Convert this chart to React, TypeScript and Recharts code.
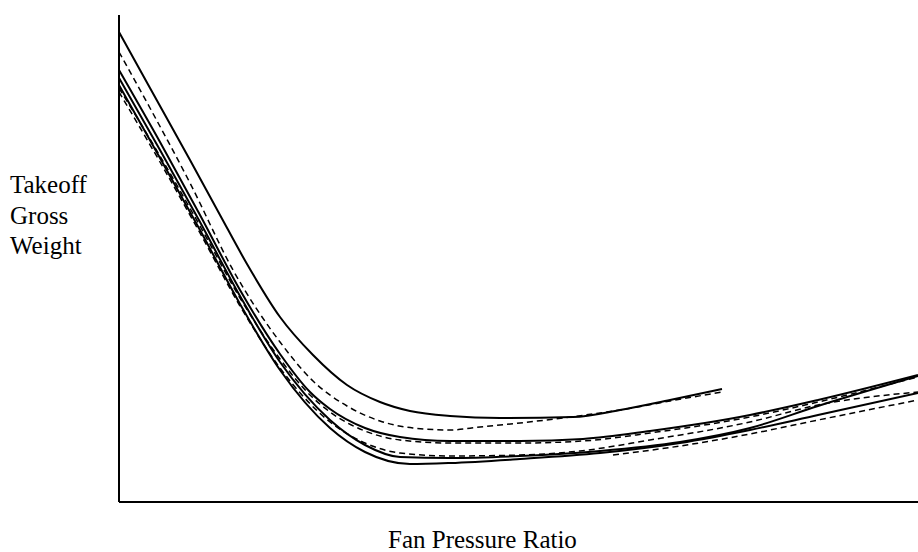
import { Label, Line, LineChart, XAxis, YAxis } from "recharts";

// x = fan pressure ratio (arbitrary units), y = takeoff gross weight (arbitrary units)
type Pt = { x: number; y: number };
const pts = (xs: number[], ys: number[]): Pt[] => xs.map((x, i) => ({ x, y: ys[i] }));

const topSolidX = [0, 31, 71, 101, 128, 161, 194, 228, 261, 291, 331, 381, 454, 501, 551, 603];
const topSolidY = [470, 414, 342, 287, 238, 185, 147, 117, 100, 91, 86, 84, 85, 92, 102, 113];

const topDashX = [0, 31, 71, 114, 161, 194, 228, 261, 294, 331, 361, 401, 451, 501, 551, 603];
const topDashY = [450, 394, 319, 232, 160, 121, 96, 81, 74, 72, 75, 79, 85, 92, 101, 110];

const midSolidX = [0, 41, 81, 121, 161, 191, 211, 246, 281, 331, 401, 464, 531, 631, 699, 799];
const midSolidY = [432, 360, 287, 212, 148, 110, 93, 74, 65, 61, 61, 63, 71, 87, 102, 127];

const midDashX = [0, 41, 81, 121, 161, 191, 211, 246, 281, 331, 401, 464, 531, 631, 699, 799];
const midDashY = [414, 346, 276, 204, 143, 107, 90, 71, 62, 59, 59, 61, 69, 85, 100, 125];

const lowSolidX = [0, 41, 81, 121, 161, 211, 246, 281, 331, 401, 481, 561, 631, 699, 799];
const lowSolidY = [424, 352, 280, 206, 140, 82, 57, 45, 44, 46, 51, 60, 74, 96, 126];

const bottomSolidX = [0, 41, 81, 121, 161, 211, 246, 291, 331, 401, 481, 561, 631, 699, 799];
const bottomSolidY = [417, 344, 272, 198, 132, 74, 50, 38, 39, 43, 49, 59, 72, 87, 109];

const lowDashX = [0, 41, 81, 121, 161, 211, 246, 281, 331, 401, 461, 531, 631, 699, 799];
const lowDashY = [410, 340, 269, 196, 134, 80, 59, 49, 46, 47, 51, 62, 80, 97, 110];

const shortDashX = [494, 561, 631, 699, 799];
const shortDashY = [47, 56, 68, 82, 102];

const series = [
  { id: "s1", data: pts(topSolidX, topSolidY), dashed: false },
  { id: "d1", data: pts(topDashX, topDashY), dashed: true },
  { id: "s2", data: pts(midSolidX, midSolidY), dashed: false },
  { id: "d2", data: pts(midDashX, midDashY), dashed: true },
  { id: "s3", data: pts(lowSolidX, lowSolidY), dashed: false },
  { id: "s4", data: pts(bottomSolidX, bottomSolidY), dashed: false },
  { id: "d3", data: pts(lowDashX, lowDashY), dashed: true },
  { id: "d4", data: pts(shortDashX, shortDashY), dashed: true },
];

const yLabelLines = ["Takeoff", "Gross", "Weight"];
const FONT = "'Liberation Serif', 'Times New Roman', serif";

export default function App() {
  return (
    <div style={{ width: 918, height: 552, background: "#fff" }}>
      <style>{`body{margin:0}`}</style>
      <LineChart width={918} height={552} margin={{ top: 15, right: 0, bottom: 0, left: 0 }}>
        <XAxis
          type="number"
          dataKey="x"
          domain={[0, 799]}
          tick={false}
          tickLine={false}
          height={50}
          axisLine={{ stroke: "#000", strokeWidth: 2 }}
        >
          <Label
            content={() => (
              <text x={388} y={548} fontFamily={FONT} fontSize={25} fill="#000">
                Fan Pressure Ratio
              </text>
            )}
          />
        </XAxis>
        <YAxis
          type="number"
          domain={[0, 487]}
          tick={false}
          tickLine={false}
          width={119}
          axisLine={{ stroke: "#000", strokeWidth: 2 }}
        >
          <Label
            content={() => (
              <g>
                {yLabelLines.map((t, i) => (
                  <text key={t} x={10} y={193 + i * 30.5} fontFamily={FONT} fontSize={25} fill="#000">
                    {t}
                  </text>
                ))}
              </g>
            )}
          />
        </YAxis>
        {series.map((s) => (
          <Line
            key={s.id}
            data={s.data}
            dataKey="y"
            type="monotone"
            stroke="#000"
            strokeWidth={s.dashed ? 1.5 : 2}
            strokeDasharray={s.dashed ? "6 4" : undefined}
            dot={false}
            activeDot={false}
            isAnimationActive={false}
          />
        ))}
      </LineChart>
    </div>
  );
}
